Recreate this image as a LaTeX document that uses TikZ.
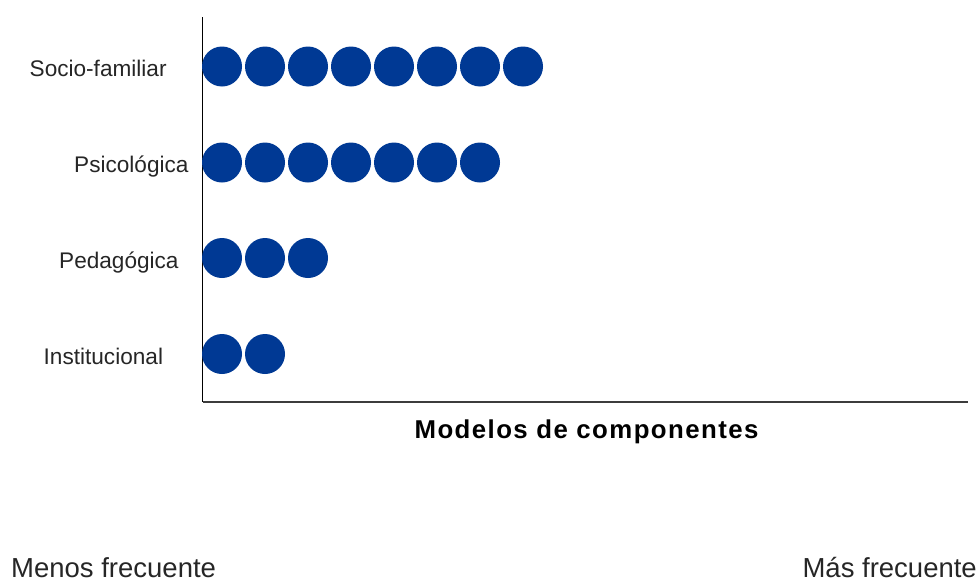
\documentclass[tikz,border=0pt]{standalone}
\usepackage{fontspec}
\setmainfont{Liberation Sans}
\definecolor{dotblue}{RGB}{0,57,148}
\definecolor{axisgray}{RGB}{60,60,60}
\begin{document}
\begin{tikzpicture}[x=1pt,y=-1pt,
  dot/.style={circle,fill=dotblue,minimum size=40pt,inner sep=0pt},
  cat/.style={anchor=base west,inner sep=0pt,font=\fontsize{22.6}{26}\selectfont,text=black!85},
  endlab/.style={inner sep=0pt,font=\fontsize{27.5}{32}\selectfont,text=black!85},
  title/.style={inner sep=0pt,anchor=base,font=\fontsize{25.8}{30}\selectfont\bfseries\addfontfeature{LetterSpace=5.5}}]
\useasboundingbox (0,0) rectangle (979,581);
% axes
\coordinate (ytop) at (202.5,17);
\coordinate (origin) at (202.5,402);
\coordinate (xend) at (968,402);
\draw[line width=1.5pt,black] (ytop) -- (origin);
\draw[line width=2pt,axisgray] (origin) -- (xend);
% category labels
\node[cat] (l1) at (29.5,76.5) {Socio-familiar};
\node[cat] (l2) at (74,172.5) {Psicológica};
\node[cat] (l3) at (59,268) {Pedagógica};
\node[cat] (l4) at (43.5,364) {Institucional};
% dots
\foreach \i in {1,...,8} {\node[dot] (a\i) at ({222+43*(\i-1)},66.5) {};}
\foreach \i in {1,...,7} {\node[dot] (b\i) at ({222+43*(\i-1)},162.5) {};}
\foreach \i in {1,...,3} {\node[dot] (c\i) at ({222+43*(\i-1)},258) {};}
\foreach \i in {1,...,2} {\node[dot] (e\i) at ({222+43*(\i-1)},354) {};}
% axis title
\node[title] (t) at (586.5,438) {Modelos de componentes};
% legend ends
\node[endlab,anchor=base west] (lo) at (11,577) {Menos frecuente};
\node[endlab,anchor=base east] (hi) at (977,577) {Más frecuente};
\end{tikzpicture}
\end{document}
